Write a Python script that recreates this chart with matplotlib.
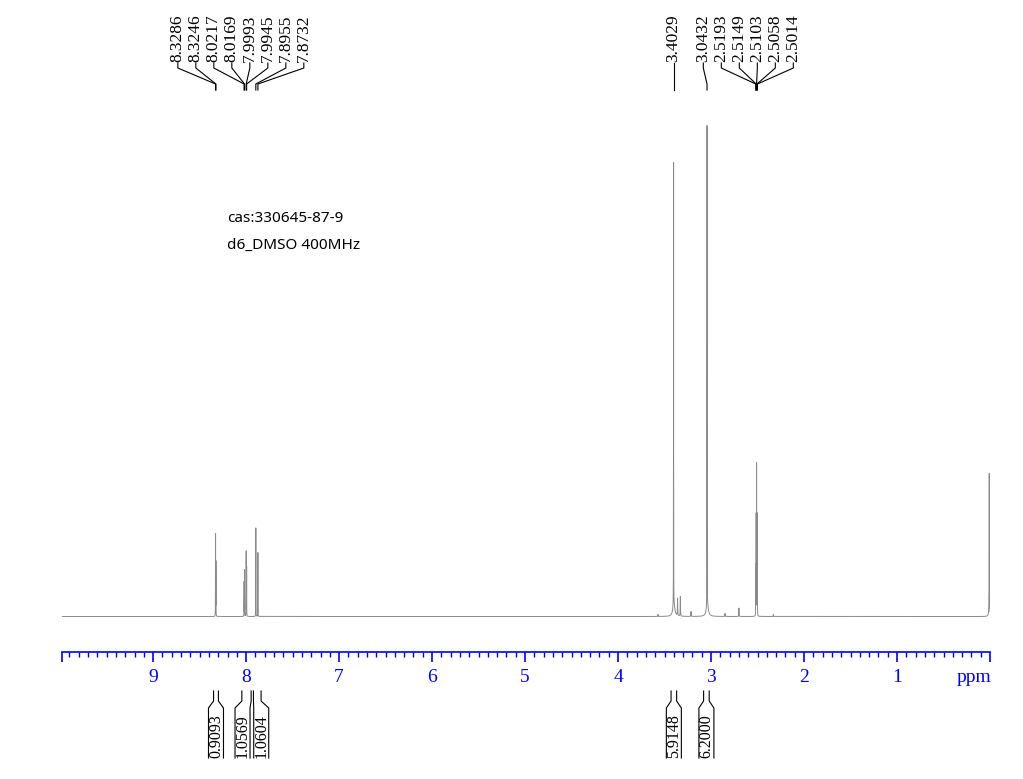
import numpy as np
import matplotlib
matplotlib.use("Agg")
import matplotlib.pyplot as plt
import matplotlib.ticker as tkr

# labelled lines: position (ppm) and height (% of the tallest line)
peak_ppm = [8.3286, 8.3246, 8.0217, 8.0169, 7.9993, 7.9945, 7.8955, 7.8732,
            3.4029, 3.0432, 2.5193, 2.5149, 2.5103, 2.5058, 2.5014]
peak_height = [16.6, 11.0, 7.0, 9.4, 13.2, 10.0, 18.0, 13.0,
               90.0, 97.5, 10.2, 20.3, 30.5, 20.3, 10.2]

# small unlabelled lines (impurities, shoulders, TMS)
minor_ppm = [3.57, 3.36, 3.33, 3.215, 2.85, 2.70, 2.33, 0.008]
minor_height = [0.4, 3.5, 4.0, 1.0, 0.6, 1.7, 0.4, 29.1]

# broad feet under the two big singlets
broad_ppm = [3.40, 3.04]
broad_height = [2.5, 2.5]

# integrals
integral_from = [8.35, 8.046, 7.921, 3.43, 3.08]
integral_to = [8.298, 7.946, 7.839, 3.37, 3.02]
integral_value = ["0.9093", "1.0569", "1.0604", "5.9148", "6.2000"]

tick_values = [9, 8, 7, 6, 5, 4, 3, 2, 1]
info_lines = ["cas:330645-87-9", "d6_DMSO 400MHz"]

ppm_left, ppm_right = 9.98, 0.0


def lorentz(x, x0, h, w):
    return h / (1 + ((x - x0) / w) ** 2)


def spread(targets, gap):
    # push labels apart, keeping each crowded group centred on its lines
    groups = [[t] for t in targets]

    def pos(g):
        c = np.mean(g)
        return [c + (i - (len(g) - 1) / 2) * gap for i in range(len(g))]

    merged = True
    while merged:
        merged = False
        for i in range(len(groups) - 1):
            if pos(groups[i])[-1] + gap > pos(groups[i + 1])[0]:
                groups[i] = groups[i] + groups.pop(i + 1)
                merged = True
                break
    return [p for g in groups for p in pos(g)]


W, H = 1023, 779
fig = plt.figure(figsize=(W / 100, H / 100), dpi=100)
ax = fig.add_axes([62 / W, (H - 652) / H, 928 / W, (652 - 95) / H])

x = np.arange(ppm_right, ppm_left, 0.0001)
y = np.zeros_like(x)
for p, h in zip(peak_ppm, peak_height):
    y += lorentz(x, p, h, 0.0006)
for p, h in zip(minor_ppm, minor_height):
    y += lorentz(x, p, h, 0.0015)
for p, h in zip(broad_ppm, broad_height):
    y += lorentz(x, p, h, 0.012)

ax.plot(x, y, color="#8a8a8a", lw=0.7)
ax.set_xlim(ppm_left, ppm_right)
ax.set_ylim(-7.22, 106.06)

for s in ["top", "left", "right"]:
    ax.spines[s].set_visible(False)
ax.spines["bottom"].set_color("blue")
ax.spines["bottom"].set_linewidth(1.2)
ax.set_yticks([])

ax.xaxis.set_major_locator(tkr.FixedLocator([ppm_left] + tick_values + [ppm_right]))
ax.xaxis.set_major_formatter(tkr.FixedFormatter([""] + [str(v) for v in tick_values] + [""]))
ax.xaxis.set_minor_locator(tkr.MultipleLocator(0.1))
ax.tick_params(axis="x", which="major", length=7.2, width=1.2, color="blue",
               labelcolor="blue", labelsize=14, pad=5)
ax.tick_params(axis="x", which="minor", length=3.6, width=1.0, color="blue")
for lab in ax.get_xticklabels():
    lab.set_fontfamily("Liberation Serif")

# overlay in pixel coordinates for labels and brackets
ov = fig.add_axes([0, 0, 1, 1])
ov.set_xlim(0, W)
ov.set_ylim(H, 0)
ov.axis("off")
ov.patch.set_visible(False)

fig.canvas.draw()


def xpix(ppm):
    return ax.transData.transform((ppm, 0))[0]


ov.text(xpix(ppm_right) - 16, 678, "ppm", color="blue", fontsize=14,
        family="Liberation Serif", ha="center", va="center")

# peak labels on top
targets = [xpix(p) for p in peak_ppm]
label_x = spread(targets, 18.0)
for p, lx, tx in zip(peak_ppm, label_x, targets):
    ov.text(lx, 62, f"{p:.4f}", rotation=90, ha="center", va="bottom",
            fontsize=12.5, family="Liberation Serif")
    ov.plot([lx, lx, tx, tx], [63, 68, 84, 90], color="black", lw=0.8)

# integral brackets below the axis
mids = [(xpix(a) + xpix(b)) / 2 for a, b in zip(integral_from, integral_to)]
box_x = spread(mids, 18.7)
for a, b, c, v in zip(integral_from, integral_to, box_x, integral_value):
    xa, xb = xpix(a), xpix(b)
    ov.plot([xa, xa, c - 7.5, c - 7.5], [691, 701, 708, 758], color="black", lw=0.8)
    ov.plot([xb, xb, c + 7.5, c + 7.5], [691, 701, 708, 758], color="black", lw=0.8)
    ov.text(c, 736, v, rotation=90, ha="center", va="center",
            fontsize=11.5, family="Liberation Serif")

ov.text(227, 222, info_lines[0], fontsize=11, family="Noto Sans", va="baseline")
ov.text(227, 249, info_lines[1], fontsize=11, family="Noto Sans", va="baseline")

fig.savefig("out.png", dpi=100)
